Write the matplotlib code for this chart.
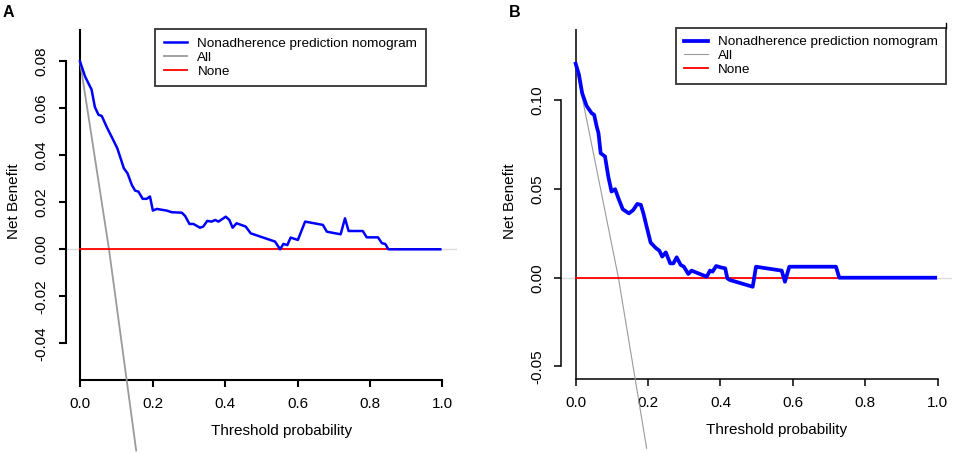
import matplotlib.pyplot as plt

plt.rcParams['font.family'] = ['Liberation Sans', 'DejaVu Sans']
plt.rcParams['axes.unicode_minus'] = False

# panel A: nomogram net benefit curve
thr_a = [0.0, 0.014, 0.032, 0.041, 0.051, 0.060, 0.074, 0.087, 0.103, 0.121,
         0.131, 0.143, 0.152, 0.161, 0.173, 0.184, 0.193, 0.201, 0.212, 0.239,
         0.253, 0.281, 0.290, 0.302, 0.313, 0.331, 0.340, 0.351, 0.363, 0.373,
         0.382, 0.402, 0.412, 0.421, 0.432, 0.457, 0.471, 0.538, 0.552, 0.561,
         0.572, 0.581, 0.601, 0.621, 0.670, 0.681, 0.719, 0.731, 0.741, 0.780,
         0.791, 0.822, 0.833, 0.842, 0.851, 0.994]
nb_a = [0.080, 0.0736, 0.068, 0.0606, 0.0573, 0.0568, 0.052, 0.048, 0.043, 0.0345,
        0.0324, 0.0274, 0.025, 0.0246, 0.0215, 0.0215, 0.0225, 0.0165, 0.0172, 0.0165,
        0.0158, 0.0156, 0.0142, 0.0108, 0.0108, 0.0092, 0.0097, 0.0121, 0.0118, 0.0125,
        0.0118, 0.0139, 0.0125, 0.0092, 0.0111, 0.0097, 0.0068, 0.0033, 0.0, 0.0023,
        0.0018, 0.005, 0.004, 0.0118, 0.0104, 0.0075, 0.0064, 0.0132, 0.0078, 0.0078,
        0.0051, 0.0051, 0.0026, 0.0023, 0.0, 0.0]
all_thr_a = [0.0, 0.08, 0.155]
all_nb_a = [0.08, 0.0, -0.0857]
none_thr_a = [0.0, 0.994]
none_nb_a = [0.0, 0.0]

# panel B
thr_b = [0.0, 0.009, 0.018, 0.030, 0.044, 0.051, 0.058, 0.063, 0.069, 0.081,
         0.090, 0.099, 0.109, 0.118, 0.130, 0.147, 0.159, 0.170, 0.180, 0.187,
         0.196, 0.207, 0.222, 0.231, 0.239, 0.249, 0.261, 0.270, 0.279, 0.290,
         0.299, 0.311, 0.320, 0.343, 0.362, 0.371, 0.378, 0.388, 0.401, 0.413,
         0.419, 0.426, 0.489, 0.498, 0.569, 0.578, 0.590, 0.719, 0.728, 0.993]
nb_b = [0.1207, 0.1145, 0.104, 0.097, 0.0928, 0.0919, 0.0853, 0.0815, 0.0702, 0.0684,
        0.0571, 0.0486, 0.0499, 0.0448, 0.0386, 0.0363, 0.0382, 0.0416, 0.0411, 0.0363,
        0.0288, 0.0198, 0.0166, 0.0153, 0.0119, 0.0143, 0.0081, 0.0081, 0.0115, 0.0072,
        0.0062, 0.0021, 0.0040, 0.0021, 0.0006, 0.0040, 0.0034, 0.0066, 0.0058, 0.0053,
        -0.0004, -0.0013, -0.0051, 0.0062, 0.0040, -0.0023, 0.0062, 0.0062, 0.0, 0.0]
all_thr_b = [0.0, 0.118, 0.196]
all_nb_b = [0.12, 0.0, -0.0962]
none_thr_b = [0.0, 0.993]
none_nb_b = [0.0, 0.0]

x_ticks = [0.0, 0.2, 0.4, 0.6, 0.8, 1.0]
x_labels = ['0.0', '0.2', '0.4', '0.6', '0.8', '1.0']
y_ticks_a = [-0.04, -0.02, 0.0, 0.02, 0.04, 0.06, 0.08]
y_labels_a = ['-0.04', '-0.02', '0.00', '0.02', '0.04', '0.06', '0.08']
y_ticks_b = [-0.05, 0.0, 0.05, 0.10]
y_labels_b = ['-0.05', '0.00', '0.05', '0.10']

W, H = 957, 454
fig = plt.figure(figsize=(W / 100, H / 100), dpi=100)


def px_axes(x0, y_top, x1, y_bot):
    return fig.add_axes([x0 / W, 1 - y_bot / H, (x1 - x0) / W, (y_bot - y_top) / H])


def draw_panel(ax, thr, nb, athr, anb, nthr, nnb, yticks, ylabels, ylim,
               lw_model, lw_all, lw_axis, leg_anchor, letter, letter_x):
    ax.set_xlim(-0.04, 1.04)
    ax.set_ylim(*ylim)
    ax.axhline(0, color='#dcdcdc', lw=1.0, zorder=1)
    ax.axvline(0, color='black', lw=lw_axis, zorder=2)
    ax.plot(athr, anb, color='#9a9a9a', lw=lw_all, clip_on=False, zorder=3, label='All')
    ax.plot(nthr, nnb, color='#ff0000', lw=1.3, zorder=4, label='None')
    ax.plot(thr, nb, color='#0000ff', lw=lw_model, zorder=5,
            label='Nonadherence prediction nomogram')

    for s in ['top', 'right']:
        ax.spines[s].set_visible(False)
    ax.spines['left'].set_bounds(yticks[0], yticks[-1])
    ax.spines['bottom'].set_bounds(0, 1)
    for s in ['left', 'bottom']:
        ax.spines[s].set_linewidth(lw_axis)
    ax.set_xticks(x_ticks)
    ax.set_xticklabels(x_labels)
    ax.set_yticks(yticks)
    ax.set_yticklabels(ylabels, rotation=90, va='center')
    ax.tick_params(axis='both', length=5, width=lw_axis, labelsize=11, pad=7)

    ax.set_xlabel('Threshold probability', fontsize=11, va='center')
    ax.xaxis.set_label_coords(0.552, -0.145)
    ax.set_ylabel('Net Benefit', fontsize=11, va='center')
    ax.yaxis.set_label_coords(-0.132, 0.51)

    h, l = ax.get_legend_handles_labels()
    order = [2, 0, 1]
    leg = ax.legend([h[i] for i in order], [l[i] for i in order], loc='upper right',
                    bbox_to_anchor=leg_anchor, borderaxespad=0, fontsize=9.7,
                    frameon=True, fancybox=False, edgecolor='black',
                    handlelength=1.75, handletextpad=0.75, borderpad=0.62,
                    labelspacing=0.1)
    leg.get_frame().set_linewidth(1.3)
    leg.set_zorder(10)
    fig.text(letter_x / W, 1 - 12.5 / H, letter, fontsize=11.5, fontweight='bold',
             va='center', ha='left')
    return leg


ax_a = px_axes(65.5, 29.3, 457, 380)
draw_panel(ax_a, thr_a, nb_a, all_thr_a, all_nb_a, none_thr_a, none_nb_a,
           y_ticks_a, y_labels_a, (-0.05565, 0.0937), 1.8, 1.3, 1.5,
           (0.920, 1.0), 'A', 2.5)

ax_b = px_axes(561.2, 29.3, 952.2, 379.3)
draw_panel(ax_b, thr_b, nb_b, all_thr_b, all_nb_b, none_thr_b, none_nb_b,
           y_ticks_b, y_labels_b, (-0.0573, 0.1401), 2.7, 0.8, 1.1,
           (0.984, 1.005), 'B', 509)

# small stray stroke above the right edge of legend B, as in the source image
fig.add_artist(plt.Line2D([945.5 / W, 945.5 / W], [1 - 23 / H, 1 - 28 / H],
                          color='black', lw=1.0))

fig.savefig('out.png', dpi=100)
